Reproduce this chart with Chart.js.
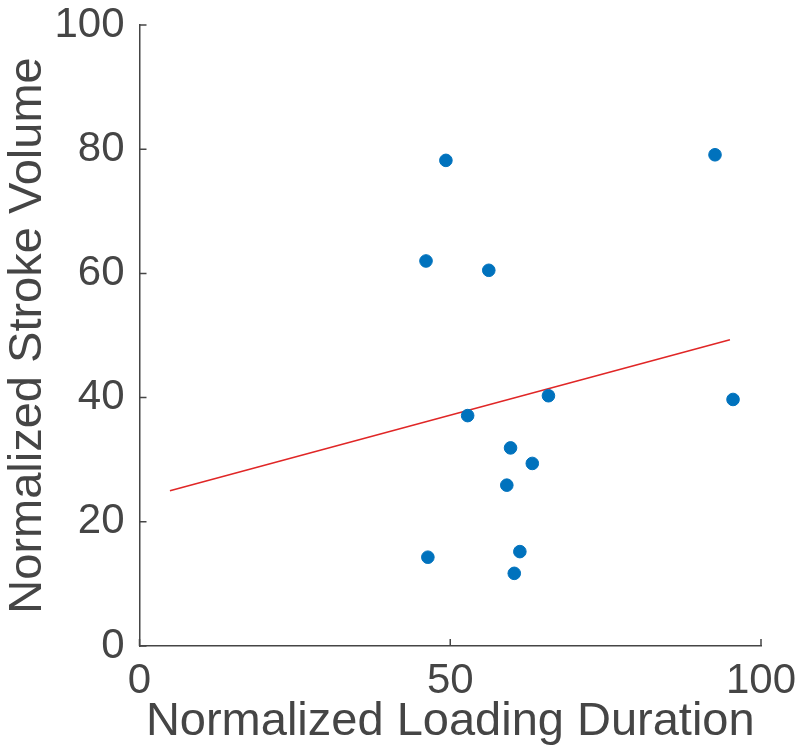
<!DOCTYPE html>
<html>
<head>
<meta charset="utf-8">
<script src="https://cdn.jsdelivr.net/npm/chart.js@4/dist/chart.umd.min.js"></script>
<style>
  html, body { margin: 0; padding: 0; background: #fff; }
  #wrap { width: 800px; height: 755px; }
</style>
</head>
<body>
<div id="wrap"><canvas id="chart" width="800" height="755"></canvas></div>
<script>
// data
const loadingDuration = [49.3, 92.6, 46.1, 56.2, 65.8, 95.5, 52.8, 59.7, 63.2, 59.1, 46.4, 61.2, 60.3];
const strokeVolume = [78.2, 79.1, 62.0, 60.5, 40.3, 39.7, 37.1, 31.9, 29.4, 25.9, 14.3, 15.2, 11.7];
const fitX = [4.9, 95.0];
const fitY = [25.0, 49.3];
const xTicks = [0, 50, 100];
const yTicks = [0, 20, 40, 60, 80, 100];

const axisColor = '#454545';
const fontFamily = '"Liberation Sans", Arial, Helvetica, sans-serif';

// small ticks pointing into the plot, like the original
const innerTicks = {
  id: 'innerTicks',
  afterDraw(chart) {
    const ctx = chart.ctx;
    const xs = chart.scales.x;
    const ys = chart.scales.y;
    const len = 7;
    ctx.save();
    ctx.strokeStyle = axisColor;
    ctx.lineWidth = 1.5;
    ctx.beginPath();
    xTicks.forEach(v => {
      const px = xs.getPixelForValue(v);
      ctx.moveTo(px, ys.bottom);
      ctx.lineTo(px, ys.bottom - len);
    });
    yTicks.forEach(v => {
      const py = ys.getPixelForValue(v);
      ctx.moveTo(xs.left, py);
      ctx.lineTo(xs.left + len, py);
    });
    ctx.stroke();
    ctx.restore();
  }
};

const points = loadingDuration.map((x, i) => ({ x: x, y: strokeVolume[i] }));
const fitLine = fitX.map((x, i) => ({ x: x, y: fitY[i] }));

new Chart(document.getElementById('chart').getContext('2d'), {
  type: 'scatter',
  data: {
    datasets: [{
      type: 'line',
      data: fitLine,
      borderColor: '#e02626',
      borderWidth: 1.5,
      pointRadius: 0,
      fill: false,
      order: 2
    }, {
      data: points,
      backgroundColor: '#0072BD',
      borderColor: '#0072BD',
      pointRadius: 6.3,
      order: 1
    }]
  },
  options: {
    responsive: false,
    animation: false,
    layout: { padding: { top: 25, right: 39, left: 0, bottom: 0 } },
    plugins: { legend: { display: false }, tooltip: { enabled: false } },
    scales: {
      x: {
        type: 'linear',
        min: 0,
        max: 100,
        afterBuildTicks: s => { s.ticks = xTicks.map(v => ({ value: v })); },
        afterFit: s => { s.height = 109; s.paddingLeft = 0; s.paddingRight = 0; },
        grid: { display: false },
        border: { display: true, color: axisColor, width: 1.5 },
        ticks: { color: axisColor, font: { family: fontFamily, size: 42 }, padding: 2, maxRotation: 0 },
        title: {
          display: true,
          text: 'Normalized Loading Duration',
          color: axisColor,
          font: { family: fontFamily, size: 47 },
          padding: { top: 0, bottom: 5 }
        }
      },
      y: {
        type: 'linear',
        min: 0,
        max: 100,
        afterBuildTicks: s => { s.ticks = yTicks.map(v => ({ value: v })); },
        afterFit: s => { s.width = 139.5; s.paddingTop = 0; s.paddingBottom = 0; },
        grid: { display: false },
        border: { display: true, color: axisColor, width: 1.5 },
        ticks: { color: axisColor, font: { family: fontFamily, size: 42 }, padding: 7 },
        title: {
          display: true,
          text: 'Normalized Stroke Volume',
          color: axisColor,
          font: { family: fontFamily, size: 47 },
          padding: { top: 0, bottom: 0 }
        }
      }
    }
  },
  plugins: [innerTicks]
});
</script>
</body>
</html>
